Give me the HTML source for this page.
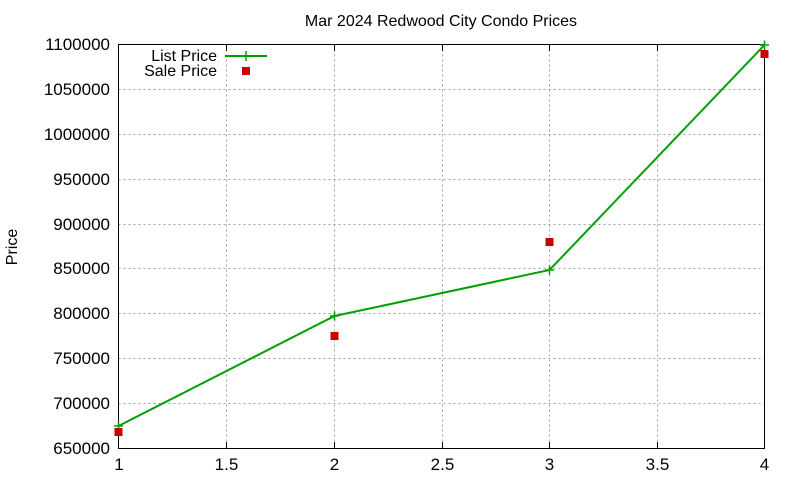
<!DOCTYPE html>
<html><head><meta charset="utf-8"><style>body{margin:0;background:#fff}svg{display:block}text{font-family:"Liberation Sans",sans-serif;font-size:16px;fill:#000}.t{font-size:17px}</style></head><body>
<svg width="800" height="480" xmlns="http://www.w3.org/2000/svg">
<g stroke="#a0a0a0" stroke-width="1" stroke-dasharray="2,3">
<line x1="226.5" y1="44.5" x2="226.5" y2="448.5"/><line x1="334.5" y1="44.5" x2="334.5" y2="448.5"/><line x1="442.5" y1="44.5" x2="442.5" y2="448.5"/><line x1="549.5" y1="44.5" x2="549.5" y2="448.5"/><line x1="657.5" y1="44.5" x2="657.5" y2="448.5"/>
<line x1="118.5" y1="403.5" x2="764.5" y2="403.5"/><line x1="118.5" y1="358.5" x2="764.5" y2="358.5"/><line x1="118.5" y1="313.5" x2="764.5" y2="313.5"/><line x1="118.5" y1="268.5" x2="764.5" y2="268.5"/><line x1="118.5" y1="224.5" x2="764.5" y2="224.5"/><line x1="118.5" y1="179.5" x2="764.5" y2="179.5"/><line x1="118.5" y1="134.5" x2="764.5" y2="134.5"/><line x1="118.5" y1="89.5" x2="764.5" y2="89.5"/>
</g>
<rect x="118.5" y="44.5" width="646" height="404" fill="none" stroke="#000"/>
<g stroke="#000">
<line x1="226.5" y1="448.5" x2="226.5" y2="442"/><line x1="334.5" y1="448.5" x2="334.5" y2="442"/><line x1="442.5" y1="448.5" x2="442.5" y2="442"/><line x1="549.5" y1="448.5" x2="549.5" y2="442"/><line x1="657.5" y1="448.5" x2="657.5" y2="442"/>
<line x1="226.5" y1="44.5" x2="226.5" y2="51"/><line x1="334.5" y1="44.5" x2="334.5" y2="51"/><line x1="442.5" y1="44.5" x2="442.5" y2="51"/><line x1="549.5" y1="44.5" x2="549.5" y2="51"/><line x1="657.5" y1="44.5" x2="657.5" y2="51"/>
</g>
<g text-anchor="end" class="t">
<text class="t" x="110" y="454">650000</text><text class="t" x="110" y="409">700000</text><text class="t" x="110" y="364">750000</text><text class="t" x="110" y="319">800000</text><text class="t" x="110" y="274">850000</text><text class="t" x="110" y="230">900000</text><text class="t" x="110" y="185">950000</text><text class="t" x="110" y="140">1000000</text><text class="t" x="110" y="95">1050000</text><text class="t" x="110" y="50">1100000</text>
</g>
<g text-anchor="middle">
<text class="t" x="119" y="470">1</text><text class="t" x="226.5" y="470">1.5</text><text class="t" x="334.5" y="470">2</text><text class="t" x="442.5" y="470">2.5</text><text class="t" x="549.5" y="470">3</text><text class="t" x="657.5" y="470">3.5</text><text class="t" x="764.5" y="470">4</text>
<text x="441" y="26">Mar 2024 Redwood City Condo Prices</text>
<text transform="translate(17,247) rotate(-90)">Price</text>
</g>
<text x="217" y="61" text-anchor="end">List Price</text>
<text x="217" y="76" text-anchor="end">Sale Price</text>
<line x1="225" y1="56" x2="267" y2="56" stroke="#00a000" stroke-width="2"/>
<path d="M246 51v10" stroke="#00a000" stroke-width="1.5"/>
<rect x="242" y="67" width="8" height="8" fill="#cc0000"/>
<polyline points="118.5,426 334.5,316 549.5,270 764.5,45" fill="none" stroke="#00a000" stroke-width="2"/>
<g stroke="#00a000" stroke-width="1.5">
<path d="M114 426h9M118.5 421.5v9M330 316h9M334.5 311.5v9M545 270h9M549.5 265.5v9M760 45h9M764.5 40.5v9"/>
</g>
<g fill="#cc0000">
<rect x="114.5" y="428" width="8" height="8"/><rect x="330.5" y="332" width="8" height="8"/><rect x="545.5" y="238" width="8" height="8"/><rect x="760.5" y="50" width="8" height="8"/>
</g>
</svg>
</body></html>
